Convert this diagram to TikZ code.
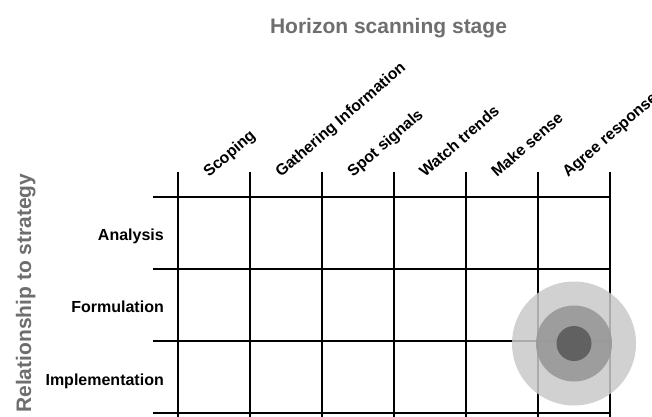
\documentclass[tikz,border=0pt]{standalone}
\usepackage{fontspec}
\setmainfont{Liberation Sans}
\definecolor{headgray}{HTML}{6E6E6E}
\definecolor{ringouter}{gray}{0.79}
\definecolor{ringmid}{gray}{0.60}
\definecolor{ringinner}{gray}{0.38}
\tikzset{
  gridline/.style={line width=1.9pt, black},
  heading/.style={font=\fontsize{21}{24}\selectfont\bfseries, text=headgray, inner sep=0pt},
  collabel/.style={font=\fontsize{15.8}{18}\selectfont\bfseries, anchor=base west, rotate=41, inner sep=0pt},
  rowlabel/.style={font=\fontsize{16}{18}\selectfont\bfseries, anchor=base east, inner sep=0pt},
}
\begin{document}
\begin{tikzpicture}[x=1pt, y=-1pt]
\useasboundingbox (0,0) rectangle (652,416);

% headings
\node[heading, anchor=base] (stagehead) at (388.5,33) {Horizon scanning stage};
\node[heading, anchor=base west, rotate=90] (strathead) at (31,413) {Relationship to strategy};

% grid: vertical rules with ticks above, horizontal rules with ticks to the left
\foreach \i/\x in {0/178,1/250,2/322,3/394,4/466,5/538,6/610} {
  \coordinate (vtop\i) at (\x,172);
  \coordinate (vbot\i) at (\x,420);
  \draw[gridline] (vtop\i) -- (vbot\i);
}
\foreach \j/\y in {0/197,1/269,2/341,3/413} {
  \coordinate (hl\j) at (153,\y);
  \coordinate (hr\j) at (610,\y);
  \draw[gridline] (hl\j) -- (hr\j);
}

% column labels
\node[collabel] (c1) at (209,178) {Scoping};
\node[collabel] (c2) at (281,178) {Gathering Information};
\node[collabel] (c3) at (353,178) {Spot signals};
\node[collabel] (c4) at (425,178) {Watch trends};
\node[collabel] (c5) at (497,178) {Make sense};
\node[collabel] (c6) at (568,178) {Agree response};

% row labels
\node[rowlabel] (r1) at (164,240) {Analysis};
\node[rowlabel] (r2) at (164,312) {Formulation};
\node[rowlabel] (r3) at (164,385) {Implementation};

% target marker
\coordinate (target) at (574,343.5);
\fill[ringouter, fill opacity=0.85] (target) circle[radius=62];
\fill[ringmid, fill opacity=0.92] (target) circle[radius=38];
\fill[ringinner] (target) circle[radius=17.5];
\end{tikzpicture}
\end{document}
